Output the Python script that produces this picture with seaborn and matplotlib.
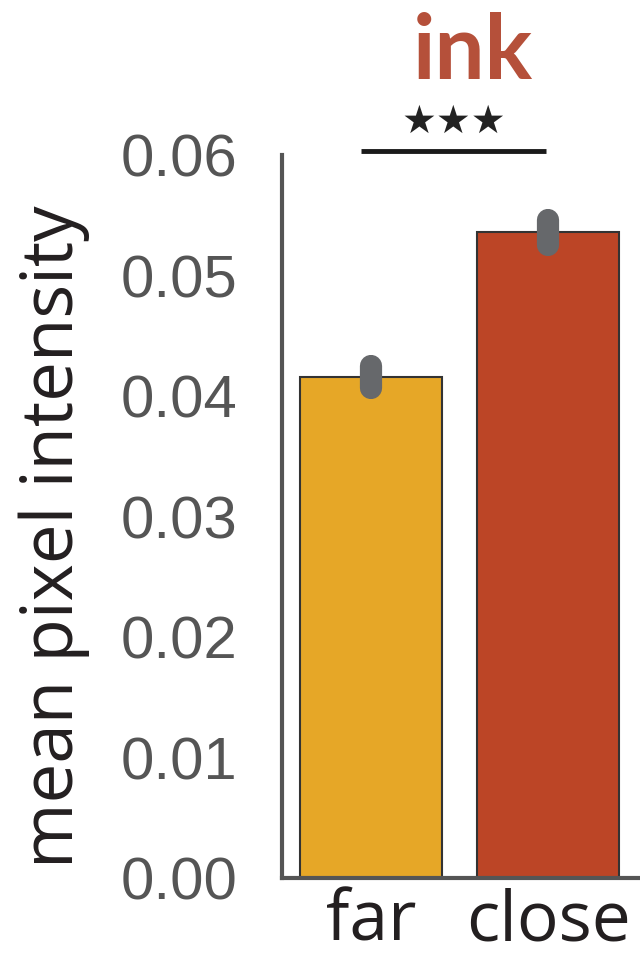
import matplotlib
matplotlib.use("Agg")
import matplotlib.pyplot as plt
import seaborn as sns
import pandas as pd

# values
conditions = ["far", "close"]
mean_intensity = [0.0416, 0.0536]
ci_low = [0.0407, 0.0525]
ci_high = [0.0425, 0.0546]
bar_colors = ["#e6a727", "#bc4526"]
yticks = [0.00, 0.01, 0.02, 0.03, 0.04, 0.05, 0.06]

df = pd.DataFrame({"condition": conditions, "intensity": mean_intensity})

sns.set_style("white")
plt.rcParams["font.family"] = ["Liberation Sans", "DejaVu Sans"]

fig = plt.figure(figsize=(6.4, 9.55), dpi=100)
ax = fig.add_axes([0.4406, 0.0806, 0.5594, 0.7571])

sns.barplot(data=df, x="condition", y="intensity", hue="condition",
            palette=bar_colors, errorbar=None, legend=False, saturation=1,
            edgecolor="#333333", linewidth=1.5, width=0.8, ax=ax)

# confidence intervals as thick rounded grey strokes
ax.vlines(range(len(conditions)), ci_low, ci_high, color="#66686b",
          linewidth=16, capstyle="round", zorder=5)

ax.set_xlim(-0.5, 1.517)
ax.set_ylim(0, 0.06)
ax.set_yticks(yticks)
ax.set_yticklabels([f"{v:.2f}" for v in yticks], fontsize=43, color="#555555")
ax.set_xticks(range(len(conditions)))
ax.set_xticklabels(conditions, fontsize=50, color="#231f20", family="Open Sans")
ax.tick_params(axis="y", length=0, pad=32)
ax.tick_params(axis="x", length=3, width=1, color="#bbbbbb", pad=4)

ax.set_xlabel("")
ax.set_ylabel("mean pixel intensity", fontsize=51, color="#231f20",
              family="Open Sans", labelpad=22)
ax.yaxis.label.set_y(0.472)

sns.despine(ax=ax)
for side in ["left", "bottom"]:
    ax.spines[side].set_color("#555555")
    ax.spines[side].set_linewidth(3)

# significance bracket
ax.plot([-0.056, 0.989], [0.0603, 0.0603], color="#1a1a1a", linewidth=3.5,
        clip_on=False, solid_capstyle="butt")
ax.text(0.466, 0.0612, "★★★", ha="center", va="bottom", fontsize=28,
        color="#222222", family="DejaVu Sans", clip_on=False)

fig.text(0.738, 0.945, "ink", ha="center", va="center", fontsize=64,
         fontweight="bold", color="#b5503a", family="Lato")

fig.savefig("out.png", dpi=100)
